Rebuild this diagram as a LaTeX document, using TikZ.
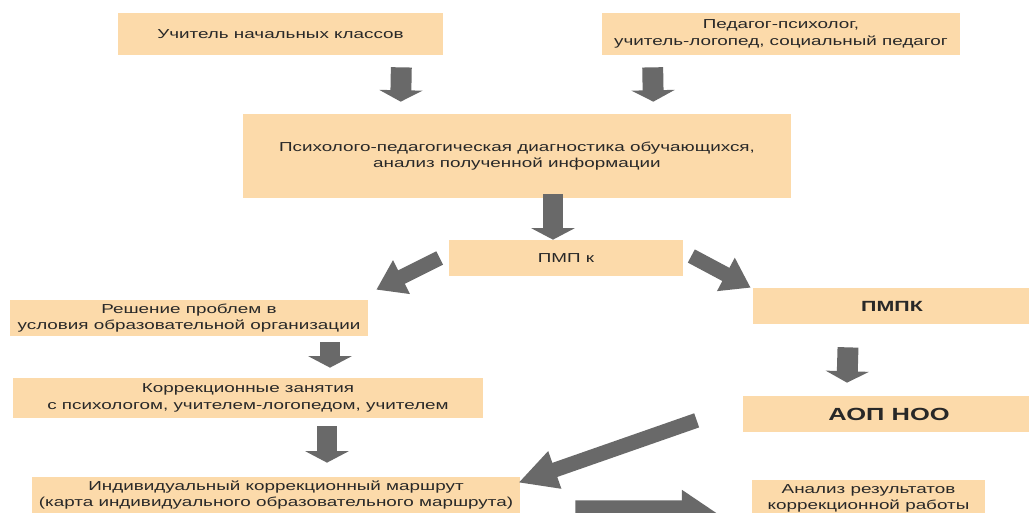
\documentclass[tikz,border=0pt]{standalone}
\usepackage{fontspec}
\setmainfont{Liberation Sans}[FakeStretch=1.45]
\usetikzlibrary{positioning,calc,arrows.meta}
\definecolor{boxfill}{RGB}{252,218,170}
\definecolor{arrowgray}{RGB}{105,105,105}
\definecolor{textgray}{RGB}{40,40,40}

\begin{document}
\begin{tikzpicture}[x=0.02cm,y=-0.02cm,
    box/.style={fill=boxfill,inner sep=0pt,align=center,text=textgray,font=\fontsize{7.4}{9.5}\selectfont},
    boldbox/.style={box,font=\fontsize{8.4}{10}\selectfont\bfseries},
    arrowdown/.style={draw=arrowgray,line width=11.9pt,-{Triangle[length=6.5pt,width=24.4pt]}},
    arrowslant/.style={draw=arrowgray,line width=8.5pt,-{Triangle[length=16pt,width=20.4pt]}},
    arrowlong/.style={draw=arrowgray,line width=8.5pt,-{Triangle[length=22pt,width=21pt]}},
    arrowright/.style={draw=arrowgray,line width=14.5pt,-{Triangle[length=19.8pt,width=25pt]}}]
    \useasboundingbox (0,0) rectangle (1029,512);
    \clip (0,0) rectangle (1029,512);
    \fill[white] (0,0) rectangle (1029,512);
    \node[box,minimum width=6.5cm,minimum height=0.84cm] (teacher) at (280.5,34) {Учитель начальных классов};
    \node[box,minimum width=7.16cm,minimum height=0.84cm] (specialists) at (781,34) {Педагог-психолог,\\учитель-логопед, социальный педагог};
    \node[box,minimum width=10.96cm,minimum height=1.68cm] (diagnostics) at (517,156) {Психолого-педагогическая диагностика обучающихся,\\анализ полученной информации};
    \node[box,minimum width=4.68cm,minimum height=0.72cm] (pmp) at (566,258) {ПМП к};
    \node[boldbox,minimum width=5.56cm,minimum height=0.72cm] (pmpk) at (892,306) {ПМПК};
    \node[boldbox,minimum width=5.84cm,minimum height=0.72cm,font=\fontsize{10}{12}\selectfont\bfseries] (aop) at (889,414) {АОП НОО};
    \node[box,minimum width=7.16cm,minimum height=0.72cm] (solving) at (189,318) {Решение проблем в\\условия образовательной организации};
    \node[box,minimum width=9.4cm,minimum height=0.8cm] (lessons) at (248,398) {Коррекционные занятия\\с психологом, учителем-логопедом, учителем};
    \node[box,minimum width=9.76cm,minimum height=0.72cm] (route) at (276,495) {Индивидуальный коррекционный маршрут\\(карта индивидуального образовательного маршрута)};
    \node[box,minimum width=4.66cm,minimum height=0.74cm] (analysis) at (868.5,498.5) {Анализ результатов\\коррекционной работы};
    \draw[arrowdown] ($(teacher.south east)+(-42,12)$) -- ($(diagnostics.north west)+(158,-12)$);
    \draw[arrowdown] ($(specialists.south west)+(51,12)$) -- ($(diagnostics.north east)+(-138,-12)$);
    \draw[arrowdown] ($(diagnostics.south)+(36,-4)$) -- ($(pmp.north)+(-13,0)$);
    \draw[arrowslant] ($(pmp.west)+(-9,0)$) -- ($(solving.north east)+(8,-10)$);
    \draw[arrowslant] ($(pmp.east)+(8,-2)$) -- ($(pmpk.north west)+(-2,0)$);
    \draw[arrowdown] ($(solving.south)+(141,6)$) -- ($(lessons.north)+(82,-10)$);
    \draw[arrowdown] ($(lessons.south)+(79,8)$) -- ($(route.north)+(51,-14)$);
    \draw[arrowdown] ($(pmpk.south)+(-44,23)$) -- ($(aop.north)+(-42,-13)$);
    \draw[arrowlong] ($(aop.south west)+(-46,-12)$) -- ($(route.north east)+(-2,6)$);
    \draw[arrowright] ($(route.east)+(55,18)$) -- ($(analysis.west)+(-35,14.5)$);
\end{tikzpicture}
\end{document}
